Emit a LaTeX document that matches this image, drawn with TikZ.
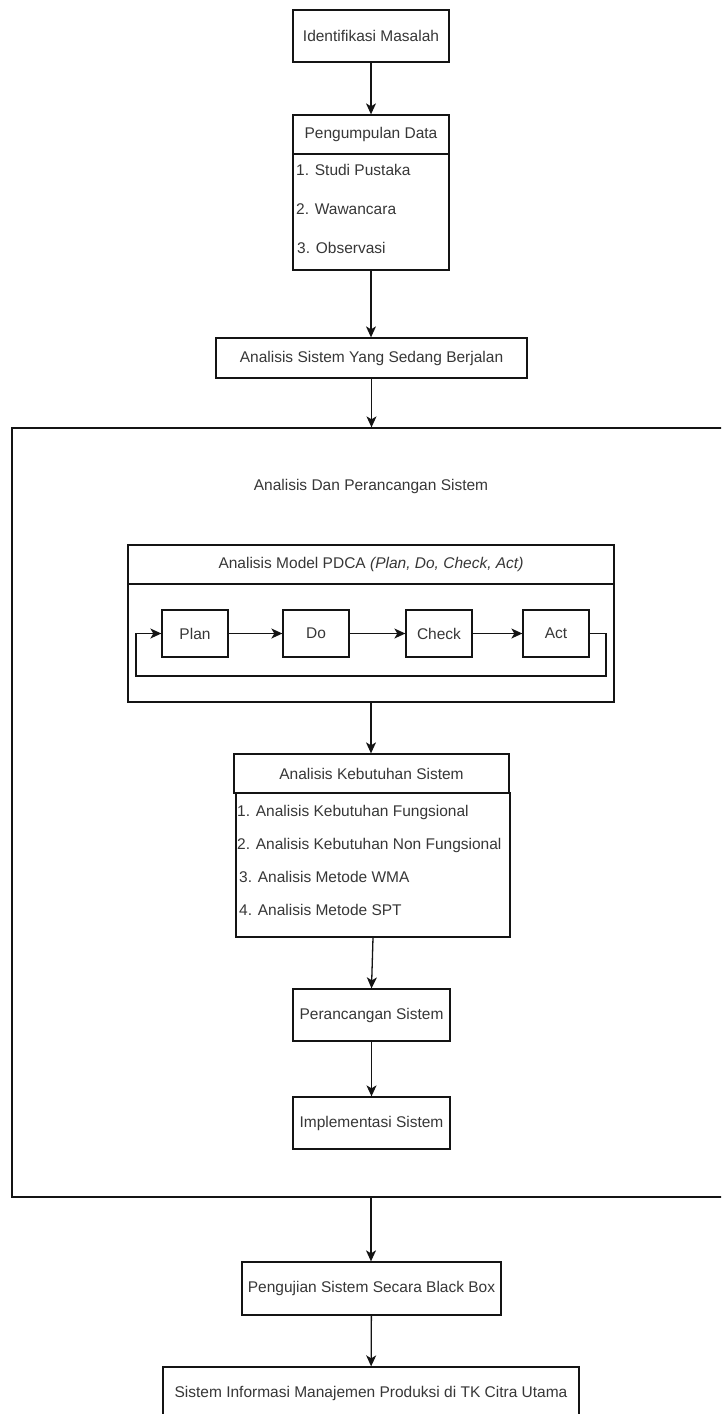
\documentclass[tikz,border=0pt]{standalone}
\usepackage{fontspec}
\setmainfont{Liberation Sans}
\usetikzlibrary{arrows.meta}
\definecolor{fcline}{RGB}{20,20,20}
\definecolor{fctext}{RGB}{55,55,55}

\tikzset{
  box/.style={draw=fcline, line width=1.3pt, fill=white, text=fctext, inner sep=0pt, font=\fontsize{15.5}{18}\selectfont},
  item/.style={text=fctext, inner sep=0pt, anchor=west, font=\fontsize{15.5}{18}\selectfont},
  arr/.style={draw=fcline, line width=1.3pt, -{Stealth[length=11pt,width=10pt,inset=3pt]}}
}

\begin{document}
\begin{tikzpicture}[x=1pt,y=-1pt] %1 unit = 1 pixel of the 721x1414 picture, y grows downwards
\useasboundingbox (0,0) rectangle (721,1414);
\clip (0,0) rectangle (721,1414); %Outer box and last box run off the page

%Top part
\node[box, minimum width=156pt, minimum height=52pt] (ident) at (371,36) {Identifikasi Masalah};
\node[box, minimum width=156pt, minimum height=39pt] (kumpul) at (371,134.5) {Pengumpulan Data};
\node[box, minimum width=156pt, minimum height=116pt] (kumpulisi) at (371,212) {};
\node[item] (studi) at (296,170) {1. Studi Pustaka};
\node[item] (wawan) at (296,209) {2. Wawancara};
\node[item] (obs) at (297,248) {3. Observasi};
\node[box, minimum width=311pt, minimum height=40pt] (berjalan) at (371.5,358) {Analisis Sistem Yang Sedang Berjalan};

%Outer box: Analisis Dan Perancangan Sistem
\node[box, minimum width=718pt, minimum height=769pt] (ranah) at (371,812.5) {};
\node[item, anchor=center] (judul) at (371,486) {Analisis Dan Perancangan Sistem};

%PDCA box
\node[box, minimum width=486pt, minimum height=39pt] (pdca) at (371,564.5) {Analisis Model PDCA \textit{(Plan, Do, Check, Act)}};
\node[box, minimum width=486pt, minimum height=118pt] (pdcaisi) at (371,643) {};
\node[box, minimum width=66pt, minimum height=47pt] (plan) at (195,633.5) {Plan};
\node[box, minimum width=66pt, minimum height=47pt] (do) at (316,633.5) {Do};
\node[box, minimum width=66pt, minimum height=47pt] (check) at (439,633.5) {Check};
\node[box, minimum width=66pt, minimum height=47pt] (act) at (556,633.5) {Act};
\coordinate (putarkanan) at (606,676);
\coordinate (putarkiri) at (136,676);

%Kebutuhan box
\node[box, minimum width=275pt, minimum height=39pt] (butuh) at (371.5,773.5) {Analisis Kebutuhan Sistem};
\node[box, minimum width=274pt, minimum height=144pt] (butuhisi) at (373,865) {};
\node[item] (fungsi) at (237,812) {1. Analisis Kebutuhan Fungsional};
\node[item] (nonfungsi) at (237,845) {2. Analisis Kebutuhan Non Fungsional};
\node[item] (wma) at (239,877) {3. Analisis Metode WMA};
\node[item] (spt) at (239,910) {4. Analisis Metode SPT};

\node[box, minimum width=157pt, minimum height=52pt] (rancang) at (371.5,1015) {Perancangan Sistem};
\node[box, minimum width=157pt, minimum height=52pt] (impl) at (371.5,1123) {Implementasi Sistem};

%Bottom part
\node[box, minimum width=259pt, minimum height=53pt] (uji) at (371.5,1288.5) {Pengujian Sistem Secara Black Box};
\node[box, minimum width=416pt, minimum height=52pt] (hasil) at (371,1393) {Sistem Informasi Manajemen Produksi di TK Citra Utama};

%Connectors
\draw[arr] (ident.south) -- (ident.south |- kumpul.north);
\draw[arr] (kumpulisi.south) -- (kumpulisi.south |- berjalan.north);
\draw[arr] (berjalan.south) -- (berjalan.south |- ranah.north);
\draw[arr] (plan) -- (do);
\draw[arr] (do) -- (check);
\draw[arr] (check) -- (act);
\draw[arr] (act.east) -| (putarkanan) -- (putarkiri) |- (plan.west); %PDCA cycle
\draw[arr] (pdcaisi.south) -- (pdcaisi.south |- butuh.north);
\draw[arr] (butuhisi.south) -- (rancang.north);
\draw[arr] (rancang) -- (impl);
\draw[arr] (ranah.south) -- (ranah.south |- uji.north);
\draw[arr] (uji) -- (hasil);
\end{tikzpicture}
\end{document}
